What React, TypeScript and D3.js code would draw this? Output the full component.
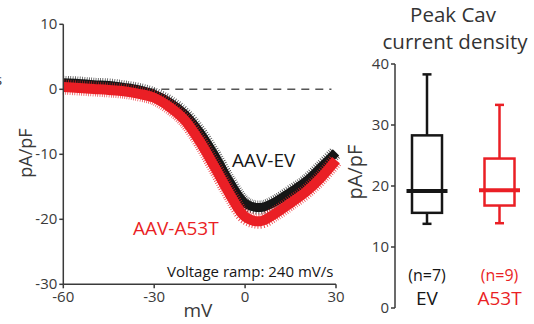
import React from 'react';
import * as d3 from 'd3';

// I-V ramp traces (mV vs pA/pF)
const voltage = [-60, -55, -50, -45, -40, -35, -30, -25, -20, -15, -10, -5, 0, 5, 10, 15, 20, 25, 30];
const evTrace = [1.0, 0.9, 0.7, 0.6, 0.3, -0.1, -0.8, -2.0, -3.8, -6.6, -10.2, -14.3, -17.5, -18.2, -17.3, -15.8, -14.2, -12.0, -9.7];
const a53tTrace = [0.35, 0.2, 0.05, -0.1, -0.3, -0.7, -1.3, -2.7, -4.7, -8.0, -12.0, -16.2, -19.6, -20.3, -19.1, -17.5, -15.8, -13.6, -10.9];

const xTicks = [-60, -30, 0, 30];
const yTicks = [10, 0, -10, -20, -30];

// peak current density box plot
const groups = ['EV', 'A53T'];
const groupN = ['(n=7)', '(n=9)'];
const whiskerLow = [13.8, 13.9];
const boxLow = [15.6, 16.8];
const medians = [19.2, 19.3];
const boxHigh = [28.3, 24.5];
const whiskerHigh = [38.3, 33.3];
const boxTicks = [0, 10, 20, 30, 40];

const BLACK = '#161616';
const RED = '#ea1f25';
const AXIS = '#3a3a3a';
const FONT = '"Open Sans", sans-serif';

export default function App() {
  const x = d3.scaleLinear().domain([-60, 30]).range([63.3, 336]);
  const y = d3.scaleLinear().domain([-30, 10]).range([284.3, 24.3]);

  const line = (vals: number[]) =>
    d3.line<number>()
      .x((_, i) => x(voltage[i]))
      .y(d => y(d))
      .curve(d3.curveCatmullRom)(vals) || '';

  const by = d3.scaleLinear().domain([0, 40]).range([308, 64]);
  const bx = d3.scalePoint<string>().domain(groups).range([427, 499.5]);
  const boxW = 30;
  const medW = 41;
  const capW = 9;
  const colors = [BLACK, RED];

  // thick core plus a ragged dashed halo to suggest the recording noise
  const trace = (vals: number[], c: string, w: number) => (
    <g fill="none" stroke={c} strokeLinejoin="round">
      <path d={line(vals)} strokeWidth={w + 5} strokeDasharray="0.7,1.6" strokeOpacity={0.85} />
      <path d={line(vals)} strokeWidth={w} />
    </g>
  );

  return (
    <svg width={534} height={324} style={{ position: 'absolute', left: 0, top: 0 }} fontFamily={FONT}>
      <rect width={534} height={324} fill="#fff" />
      {/* cut-off text from neighbouring panel */}
      <text x={-5} y={85} fontSize={15} fill={AXIS}>s</text>

      {/* left panel: traces */}
      <line x1={x(-60)} x2={x(28.5)} y1={y(0)} y2={y(0)} stroke="#555" strokeWidth={1.5} strokeDasharray="8,6" />
      {trace(evTrace, BLACK, 9)}
      {trace(a53tTrace, RED, 10)}

      {/* left axes */}
      <line x1={x(-60)} x2={x(-60)} y1={y(10)} y2={y(-30)} stroke={AXIS} strokeWidth={1.5} />
      {yTicks.map(t => (
        <g key={'yl' + t}>
          <line x1={x(-60) - 4} x2={x(-60)} y1={y(t)} y2={y(t)} stroke={AXIS} strokeWidth={1.5} />
          <text x={x(-60) - 6} y={y(t) + 5} fontSize={15} textAnchor="end" fill={AXIS}>{t}</text>
        </g>
      ))}
      <line x1={x(-60)} x2={x(30)} y1={y(-30)} y2={y(-30)} stroke={AXIS} strokeWidth={1.5} />
      {xTicks.map(t => (
        <g key={'xl' + t}>
          <line x1={x(t)} x2={x(t)} y1={y(-30)} y2={y(-30) + 4} stroke={AXIS} strokeWidth={1.5} />
          <text x={x(t)} y={302} fontSize={15} textAnchor="middle" fill={AXIS}>{t}</text>
        </g>
      ))}
      <text x={198} y={317} fontSize={19} textAnchor="middle" fill={AXIS}>mV</text>
      <text transform={`translate(32,153) rotate(-90)`} fontSize={18} textAnchor="middle" fill={AXIS}>pA/pF</text>

      <text x={232} y={167} fontSize={19} fill={BLACK}>AAV-EV</text>
      <text x={133} y={235} fontSize={19} fill={RED}>AAV-A53T</text>
      <text x={167} y={277} fontSize={15} fill={BLACK}>Voltage ramp: 240 mV/s</text>

      {/* right panel: box plot */}
      <text x={453} y={22} fontSize={20.5} textAnchor="middle" fill="#333">Peak Cav</text>
      <text x={455} y={49} fontSize={20.5} textAnchor="middle" fill="#333">current density</text>

      <line x1={395} x2={395} y1={by(40)} y2={by(0)} stroke={AXIS} strokeWidth={1.5} />
      {boxTicks.map(t => (
        <g key={'yb' + t}>
          <line x1={391} x2={395} y1={by(t)} y2={by(t)} stroke={AXIS} strokeWidth={1.5} />
          <text x={389} y={by(t) + 5} fontSize={15} textAnchor="end" fill={AXIS}>{t}</text>
        </g>
      ))}
      <text transform={`translate(362,172) rotate(-90)`} fontSize={20} textAnchor="middle" fill={AXIS}>pA/pF</text>

      {groups.map((g, i) => {
        const cx = bx(g) as number;
        const c = colors[i];
        return (
          <g key={g} stroke={c} strokeWidth={2.5} fill="none">
            <line x1={cx} x2={cx} y1={by(whiskerHigh[i])} y2={by(boxHigh[i])} />
            <line x1={cx} x2={cx} y1={by(boxLow[i])} y2={by(whiskerLow[i])} />
            <line x1={cx - capW / 2} x2={cx + capW / 2} y1={by(whiskerHigh[i])} y2={by(whiskerHigh[i])} />
            <line x1={cx - capW / 2} x2={cx + capW / 2} y1={by(whiskerLow[i])} y2={by(whiskerLow[i])} />
            <rect x={cx - boxW / 2} y={by(boxHigh[i])} width={boxW} height={by(boxLow[i]) - by(boxHigh[i])} />
            <line x1={cx - medW / 2} x2={cx + medW / 2} y1={by(medians[i])} y2={by(medians[i])} strokeWidth={4} />
            <text x={cx} y={281} fontSize={16} textAnchor="middle" fill={c} stroke="none">{groupN[i]}</text>
            <text x={cx} y={305} fontSize={19} textAnchor="middle" fill={c} stroke="none">{g}</text>
          </g>
        );
      })}
    </svg>
  );
}
